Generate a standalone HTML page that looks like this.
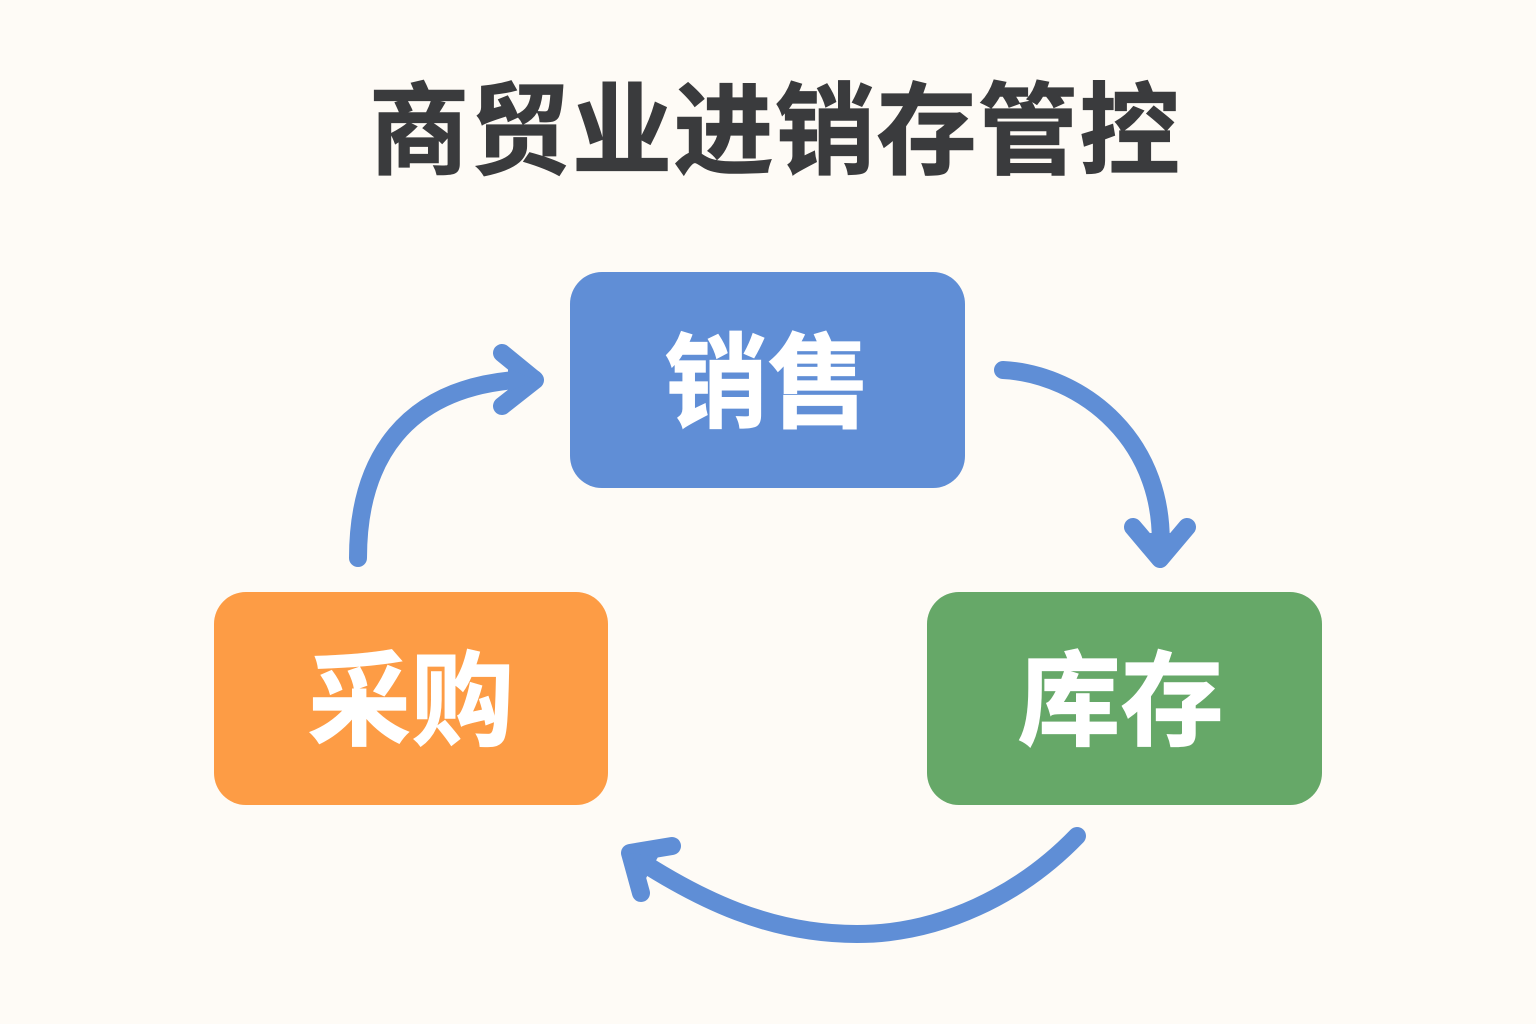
<!DOCTYPE html>
<html lang="zh">
<head>
<meta charset="utf-8">
<style>
html,body{margin:0;padding:0;background:#fefbf6;}
svg{display:block;}
text{font-family:"Liberation Sans","Noto Sans CJK SC",sans-serif;font-weight:700;text-anchor:middle;}
</style>
</head>
<body>
<svg width="1536" height="1024" viewBox="0 0 1536 1024" xmlns="http://www.w3.org/2000/svg">
<rect width="1536" height="1024" fill="#fefbf6"/>
<text x="775" y="166" font-size="100" letter-spacing="1.5" fill="#3a3b3d" stroke="#3a3b3d" stroke-width="1.2">商贸业进销存管控</text>
<rect x="570" y="272" width="395" height="216" rx="32" fill="#608ed6"/>
<rect x="214" y="592" width="394" height="213" rx="32" fill="#fd9c45"/>
<rect x="927" y="592" width="395" height="213" rx="32" fill="#66a868"/>
<g font-size="103" fill="#fff" stroke="#fff" stroke-width="1.2">
<text x="767.5" y="419">销售</text>
<text x="411" y="737">采购</text>
<text x="1120.5" y="737">库存</text>
</g>
<g fill="none" stroke="#5f8ed6" stroke-width="18" stroke-linecap="round" stroke-linejoin="round">
<path d="M358 558C358 465 400 382 534 379"/>
<path d="M502 353L535 380L502 406"/>
<path d="M1003 370C1080 374 1170 440 1160 558"/>
<path d="M1133 527L1160 559L1187 527"/>
<path d="M1077 836C1020 895 940 934 857 934C770 934 700 900 634 857"/>
<path d="M672 846L630 853L641 893"/>
</g>
<g fill="#5f8ed6">
<polygon points="508,368 535,380 508,392"/>
<polygon points="1148,533 1172,533 1160,559"/>
<polygon points="658,857 645,880 630,853"/>
</g>
</svg>
</body>
</html>
